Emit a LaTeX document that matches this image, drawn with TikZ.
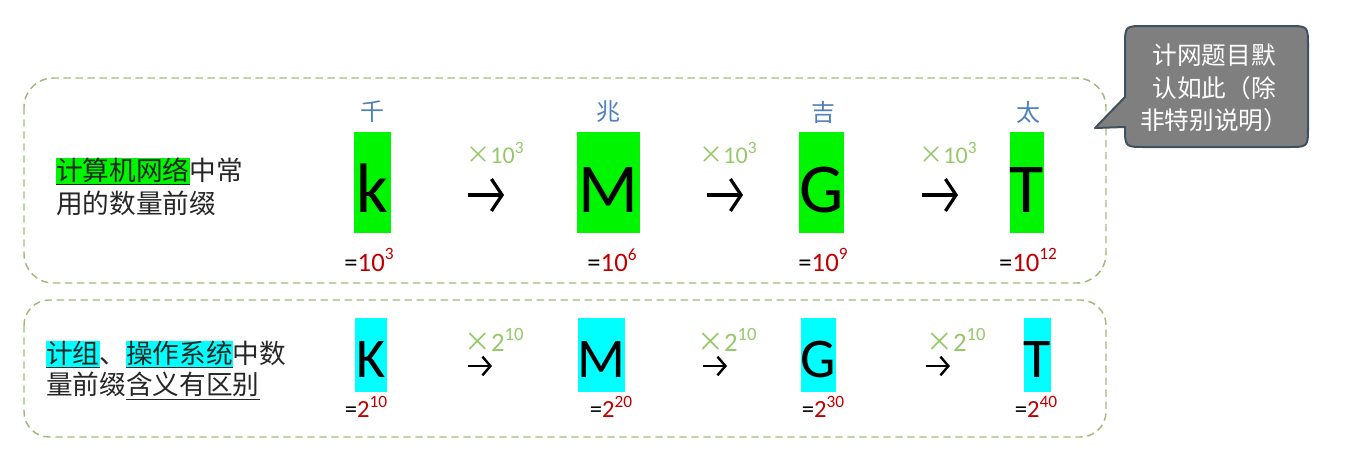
\documentclass[tikz,border=0pt]{standalone}
\usepackage{fontspec}
\setmainfont{Carlito}
\newfontfamily\cjk{Noto Sans CJK SC}
\usetikzlibrary{arrows.meta}
\definecolor{hlgreen}{RGB}{0,245,0}
\definecolor{hlcyan}{RGB}{0,255,255}
\definecolor{lblue}{RGB}{79,129,189}
\definecolor{lgreen}{RGB}{150,200,105}
\definecolor{dred}{RGB}{192,0,0}
\definecolor{dashc}{RGB}{160,187,120}
\definecolor{callfill}{RGB}{127,127,127}
\definecolor{callline}{RGB}{65,80,95}
\newcommand\hlx[2]{{\setlength\fboxsep{0pt}\colorbox{#1}{\underline{#2}}}}
\newcommand\pw[3]{#1\raisebox{0.42em}{\fontsize{#3}{#3}\selectfont #2}}
\begin{document}
\begin{tikzpicture}[x=0.75pt,y=-0.75pt,
  frame/.style={draw=dashc, line width=1.1pt, dash pattern=on 5.5pt off 3.5pt},
  lefttxt/.style={anchor=west, align=left, inner sep=0pt, text=black!85, font=\cjk\fontsize{20}{25}\selectfont},
  gbox/.style={fill=hlgreen, inner sep=0pt, text height=60pt, text depth=15.75pt, font=\fontsize{52.5}{60}\selectfont},
  cbox/.style={fill=hlcyan, inner sep=0pt, text height=44.25pt, text depth=11.25pt, font=\fontsize{42}{48}\selectfont},
  namelbl/.style={inner sep=0pt, text=lblue, font=\cjk\fontsize{18}{18}\selectfont},
  multlbl/.style={inner sep=0pt, text=lgreen, font=\fontsize{18}{18}\selectfont},
  multlblb/.style={inner sep=0pt, text=lgreen, font=\fontsize{20}{20}\selectfont},
  eqlbl/.style={inner sep=0pt, font=\fontsize{20}{20}\selectfont},
  eqlblb/.style={inner sep=0pt, font=\fontsize{18.5}{18.5}\selectfont},
  bigarrow/.style={line width=2.4pt, -{Straight Barb[length=8pt,width=24pt]}},
  smallarrow/.style={line width=1.8pt, -{Straight Barb[length=6pt,width=14pt]}},
  calltxt/.style={inner sep=0pt, align=center, text=white, font=\cjk\fontsize{18.5}{24.5}\selectfont}
]
\useasboundingbox (0,0) rectangle (1354,450);
% frames
\draw[frame, rounded corners=22pt] (24,78) rectangle (1106,283);
\draw[frame, rounded corners=19pt] (24,300) rectangle (1106,437);

% left texts
\node[lefttxt] (t1) at (56,187) {\hlx{hlgreen}{计算机网络}中常\\用的数量前缀};
\node[lefttxt, font=\cjk\fontsize{20}{23.5}\selectfont] (t2) at (46,370.5) {\hlx{hlcyan}{计组}、\hlx{hlcyan}{操作系统}中数\\量前缀\underline{含义有区别}};

% top row boxes
\node[gbox, minimum width=27.75pt] (k) at (372.5,182.5) {k};
\node[gbox, minimum width=47.25pt] (M) at (608.5,182.5) {M};
\node[gbox, minimum width=32.25pt] (G) at (821.5,182.5) {G};
\node[gbox, minimum width=25.5pt] (T) at (1027,182.5) {T};

\node[namelbl] (nk) at (372,112) {千};
\node[namelbl] (nM) at (608,112) {兆};
\node[namelbl] (nG) at (823,112) {吉};
\node[namelbl] (nT) at (1028,112) {太};

\node[multlbl] (m1) at (495,153) {{\cjk ×}\pw{10}{3}{13}};
\node[multlbl] (m2) at (728,153) {{\cjk ×}\pw{10}{3}{13}};
\node[multlbl] (m3) at (948,153) {{\cjk ×}\pw{10}{3}{13}};

\coordinate (a1s) at (468,195); \coordinate (a1e) at (504,195);
\coordinate (a2s) at (707,195); \coordinate (a2e) at (743,195);
\coordinate (a3s) at (922,195); \coordinate (a3e) at (958,195);
\draw[bigarrow] (a1s) -- (a1e);
\draw[bigarrow] (a2s) -- (a2e);
\draw[bigarrow] (a3s) -- (a3e);

\node[eqlbl] (ek) at (369,260) {=\textcolor{dred}{\pw{10}{3}{13}}};
\node[eqlbl] (eM) at (612,260) {=\textcolor{dred}{\pw{10}{6}{13}}};
\node[eqlbl] (eG) at (823,260) {=\textcolor{dred}{\pw{10}{9}{13}}};
\node[eqlbl] (eT) at (1028,260) {=\textcolor{dred}{\pw{10}{12}{13}}};

% bottom row boxes
\node[cbox, minimum width=24pt] (K2) at (371,355) {K};
\node[cbox, minimum width=35.25pt] (M2) at (601.5,355) {M};
\node[cbox, minimum width=26.25pt] (G2) at (818.5,355) {G};
\node[cbox, minimum width=20.25pt] (T2) at (1037.5,355) {T};

\node[multlblb] (b1) at (494,340) {{\cjk ×}\pw{2}{10}{14}};
\node[multlblb] (b2) at (727,340) {{\cjk ×}\pw{2}{10}{14}};
\node[multlblb] (b3) at (956,340) {{\cjk ×}\pw{2}{10}{14}};

\coordinate (b1s) at (468,366); \coordinate (b1e) at (492,366);
\coordinate (b2s) at (703,366); \coordinate (b2e) at (727,366);
\coordinate (b3s) at (926,366); \coordinate (b3e) at (950,366);
\draw[smallarrow] (b1s) -- (b1e);
\draw[smallarrow] (b2s) -- (b2e);
\draw[smallarrow] (b3s) -- (b3e);

\node[eqlblb] (fK) at (366,407) {=\textcolor{dred}{\pw{2}{10}{13}}};
\node[eqlblb] (fM) at (611,407) {=\textcolor{dred}{\pw{2}{20}{13}}};
\node[eqlblb] (fG) at (823,407) {=\textcolor{dred}{\pw{2}{30}{13}}};
\node[eqlblb] (fT) at (1036,407) {=\textcolor{dred}{\pw{2}{40}{13}}};

% callout
\draw[fill=callfill, draw=callline, line width=1.5pt, line join=round]
  (1125,97) -- (1125,46) .. controls (1125,26) .. (1145,26) -- (1288,26)
  .. controls (1308,26) .. (1308,46) -- (1308,127) .. controls (1308,147) .. (1288,147)
  -- (1145,147) .. controls (1125,147) .. (1125,127) -- (1095,128) -- cycle;
\node[calltxt] (ct) at (1214,88) {计网题目默\\认如此（除\\非特别说明）};
\end{tikzpicture}
\end{document}
